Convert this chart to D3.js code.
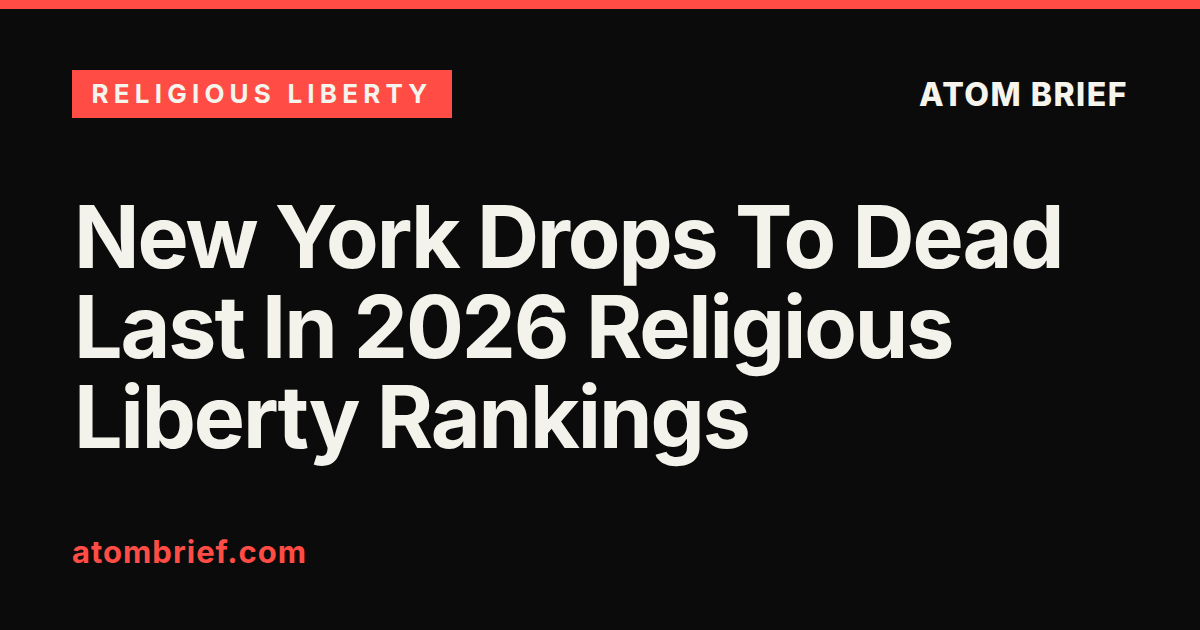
<!DOCTYPE html>
<html><head><meta charset="utf-8">
<script src="https://cdn.jsdelivr.net/npm/d3@7"></script>
<style>body{margin:0;background:#0b0b0b}</style>
</head><body>
<svg id="card" width="1200" height="630"></svg>
<script>
var tag = "RELIGIOUS LIBERTY";
var brand = "ATOM BRIEF";
var titleLines = ["New York Drops To Dead", "Last In 2026 Religious", "Liberty Rankings"];
var site = "atombrief.com";

var svg = d3.select("#card");
svg.append("rect").attr("width",1200).attr("height",630).attr("fill","#0b0b0b");
svg.append("rect").attr("width",1200).attr("height",9).attr("fill","#ff4d45");

svg.append("rect").attr("x",72).attr("y",70).attr("width",380).attr("height",48).attr("fill","#ff4d45");
svg.append("text").attr("x",262).attr("y",103).attr("text-anchor","middle")
  .attr("font-family","Inter").attr("font-weight",700).attr("font-size",26)
  .attr("letter-spacing",5.2).attr("fill","#f5f5ee").text(tag);

svg.append("text").attr("x",1128).attr("y",106).attr("text-anchor","end")
  .attr("font-family","Inter").attr("font-weight",800).attr("font-size",32)
  .attr("letter-spacing",1.5).attr("fill","#f5f5ee").text(brand);

var y = d3.scalePoint().domain(d3.range(titleLines.length)).range([268,448]);
svg.selectAll("text.title").data(titleLines).join("text").attr("class","title")
  .attr("x",74).attr("y",(d,i)=>y(i))
  .attr("font-family","Inter").attr("font-weight",700).attr("font-size",86)
  .attr("letter-spacing",-2.1).attr("fill","#f3f3ec").text(d=>d);

svg.append("text").attr("x",72).attr("y",563)
  .attr("font-family","Inter").attr("font-weight",700).attr("font-size",31)
  .attr("letter-spacing",1).attr("fill","#ff4d45").text(site);
</script>
</body></html>
